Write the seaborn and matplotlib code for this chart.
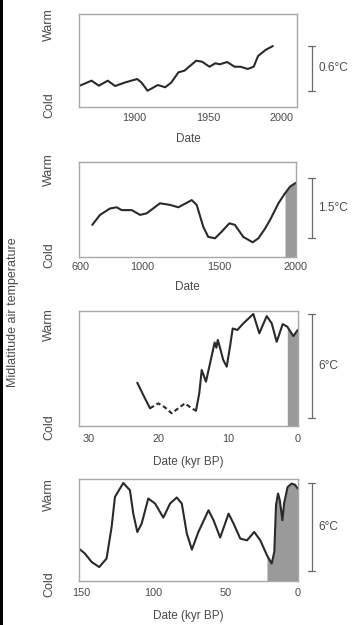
import numpy as np
import pandas as pd
import matplotlib
matplotlib.use("Agg")
import matplotlib.pyplot as plt
import matplotlib.transforms as mtransforms
from matplotlib.patches import Rectangle
import seaborn as sns

# ---------------- data ----------------
# Panel 1: instrumental era
p1_year = [1862.5, 1871, 1876, 1882, 1887, 1894, 1902, 1905, 1909, 1916, 1921,
           1925, 1930, 1934, 1942, 1946, 1951, 1955, 1958, 1963, 1968, 1972,
           1977, 1981, 1984, 1989, 1994]
p1_temp = [0.284, 0.355, 0.288, 0.355, 0.284, 0.333, 0.377, 0.328, 0.221, 0.297,
           0.267, 0.328, 0.467, 0.488, 0.621, 0.608, 0.541, 0.587, 0.573, 0.604,
           0.541, 0.541, 0.511, 0.541, 0.684, 0.764, 0.817]

# Panel 2: last ~1400 years
p2_year = [679, 729, 794, 837, 870, 935, 989, 1032, 1118, 1183, 1237, 1324, 1356,
           1399, 1431, 1475, 1518, 1568, 1604, 1658, 1719, 1756, 1799, 1832,
           1886, 1929, 1961, 2000]
p2_temp = [0.795, 1.045, 1.205, 1.235, 1.165, 1.165, 1.045, 1.085, 1.335, 1.295,
           1.235, 1.415, 1.295, 0.745, 0.495, 0.46, 0.625, 0.835, 0.795, 0.495,
           0.36, 0.46, 0.70, 0.92, 1.335, 1.585, 1.75, 1.85]
p2_shade_from = 1929

# Panel 3: last glacial termination (kyr BP)
p3_kyr_a = [22.98, 22.12, 21.16]
p3_temp_a = [2.49, 1.78, 1.02]
p3_kyr_dash = [21.16, 19.97, 19.01, 18.05, 17.11, 16.15, 15.19, 14.57]
p3_temp_dash = [1.02, 1.30, 1.07, 0.73, 1.02, 1.30, 1.02, 0.88]
p3_kyr_b = [14.57, 14.10, 13.75, 13.14, 12.56, 11.9, 11.65, 11.45, 11.2, 10.66,
            10.17, 9.70, 9.31, 8.65, 7.79, 6.36, 5.50, 4.44, 3.72, 3.01, 2.15,
            1.49, 0.63, 0.0]
p3_temp_b = [0.88, 1.88, 3.22, 2.55, 3.60, 4.80, 4.50, 4.95, 4.60, 3.79, 3.41,
             4.56, 5.61, 5.52, 5.90, 6.44, 5.33, 6.32, 5.90, 4.84, 5.86, 5.71,
             5.17, 5.52]
p3_shade_from = 1.49

# Panel 4: last glacial cycle (kyr BP)
p4_kyr = [151.6, 147.4, 142.8, 137.5, 132.4, 128.9, 126.6, 120.8, 116.2, 113.9,
          111.1, 108.1, 103.5, 98.8, 93.1, 88.4, 83.8, 80.3, 76.8, 73.3, 68.8,
          61.8, 58.3, 53.7, 47.9, 44.4, 39.8, 35.1, 30.1, 25.9, 21.3, 18.0,
          16.2, 15.0, 13.6, 12.4, 10.6, 9.4, 7.0, 4.2, 1.8, 0.0]
p4_temp = [2.21, 1.87, 1.30, 0.95, 1.53, 3.68, 5.73, 6.68, 6.18, 4.59, 3.34, 3.91,
           5.62, 5.28, 4.32, 5.28, 5.69, 5.28, 3.23, 2.14, 3.34, 4.82, 4.14, 2.96,
           4.59, 3.91, 2.89, 2.77, 3.34, 2.77, 1.75, 1.19, 2.0, 5.2, 5.96, 5.5,
           4.14, 5.3, 6.4, 6.64, 6.55, 6.30]
p4_shade_from = 21.3

# scale bars: (low, high, label)
scale_bars = [(0.221, 0.821, "0.6°C"), (0.46, 1.96, "1.5°C"),
              (0.44, 6.44, "6°C"), (0.68, 6.68, "6°C")]

# ---------------- style ----------------
sns.set_theme(style="white")
plt.rcParams["font.family"] = ["Liberation Sans", "DejaVu Sans"]
TXT = "#4a4a4a"
SPINE = "#a8a8a8"
LINE = "#2a2a2a"
FILL = "#9a9a9a"
FS_TICK = 7.8
FS_LAB = 8.5
FS_SIDE = 9.0
LW = 1.5
LINE_KW = dict(color=LINE, lw=LW, sort=False, estimator=None,
               solid_joinstyle="round", solid_capstyle="round")

W, H = 353, 625
fig = plt.figure(figsize=(W / 100, H / 100), dpi=100)
fig.patch.set_facecolor("white")


def make_ax(left, right, top, bottom):
    return fig.add_axes([left / W, 1 - bottom / H, (right - left) / W, (bottom - top) / H])


axes = [make_ax(79, 297, 14, 107.3),
        make_ax(79, 296, 161.7, 256.7),
        make_ax(79, 297.7, 310.7, 426),
        make_ax(79, 297.7, 479, 581)]
ylims = [(0, 1.244), (0, 2.375), (0, 6.63), (0, 6.95)]
warm_pos = [0.89, 0.92, 0.875, 0.85]
cold_pos = [0.02, 0.02, -0.01, -0.03]
labelpads = [7.5, 6.5, 8.5, 9.0]

for ax in axes:
    ax.set_facecolor("white")
    for s in ax.spines.values():
        s.set_color(SPINE)
        s.set_linewidth(1.0)
        s.set_visible(True)
    ax.set_yticks([])

# Panel 1
ax = axes[0]
sns.lineplot(x=p1_year, y=p1_temp, ax=ax, **LINE_KW)
ax.set_xlim(1862.5, 2010.4)
ax.set_xticks([1900, 1950, 2000])
ax.set_xlabel("Date")

# Panel 2
ax = axes[1]
d2 = pd.DataFrame({"year": p2_year, "temp": p2_temp})
sh2 = d2[d2.year >= p2_shade_from]
ax.fill_between(sh2.year, 0, sh2.temp, color=FILL, lw=0)
sns.lineplot(data=d2, x="year", y="temp", ax=ax, **LINE_KW)
ax.set_xlim(593, 2000)
ax.set_xticks([600, 1000, 1500, 2000])
ax.set_xlabel("Date")

# Panel 3
ax = axes[2]
d3 = pd.DataFrame({"kyr": p3_kyr_b, "temp": p3_temp_b})
sh3 = d3[d3.kyr <= p3_shade_from]
ax.fill_between(sh3.kyr, 0, sh3.temp, color=FILL, lw=0)
sns.lineplot(x=p3_kyr_a, y=p3_temp_a, ax=ax, **LINE_KW)
sns.lineplot(x=p3_kyr_dash, y=p3_temp_dash, ax=ax, color=LINE, lw=LW, sort=False,
             estimator=None, linestyle=(0, (2.2, 1.4)))
sns.lineplot(data=d3, x="kyr", y="temp", ax=ax, **LINE_KW)
ax.set_xlim(31.33, 0)
ax.set_xticks([30, 20, 10, 0])
ax.set_xticks([25, 15, 5], minor=True)
ax.set_xlabel("Date (kyr BP)")

# Panel 4
ax = axes[3]
d4 = pd.DataFrame({"kyr": p4_kyr, "temp": p4_temp})
sh4 = d4[d4.kyr <= p4_shade_from]
ax.fill_between(sh4.kyr, 0, sh4.temp, color=FILL, lw=0)
sns.lineplot(data=d4, x="kyr", y="temp", ax=ax, **LINE_KW)
ax.set_xlim(151.5, 0)
ax.set_xticks([150, 100, 50, 0])
ax.set_xticks([125, 75, 25], minor=True)
ax.set_xlabel("Date (kyr BP)")

for i, ax in enumerate(axes):
    ax.set_ylim(*ylims[i])
    ax.set_ylabel("")
    ax.xaxis.label.set_color(TXT)
    ax.xaxis.label.set_size(FS_LAB)
    ax.xaxis.labelpad = labelpads[i]
    if i < 3:
        ax.tick_params(axis="x", which="major", direction="in", length=7, width=0.9,
                       color=SPINE, labelcolor=TXT, labelsize=FS_TICK,
                       pad=4 if i < 2 else 6)
        ax.tick_params(axis="x", which="minor", direction="in", length=5, width=0.9,
                       color=SPINE)
    else:
        ax.tick_params(axis="x", which="major", direction="in", length=9, width=1.8,
                       color="#111111", labelcolor=TXT, labelsize=FS_TICK, pad=5)
        ax.tick_params(axis="x", which="minor", direction="in", length=6.5, width=1.8,
                       color="#111111")
    # hide tick marks that sit on the frame edges
    lo, hi = sorted(ax.get_xlim())
    for t, loc in zip(ax.xaxis.get_major_ticks(), ax.get_xticks()):
        if loc - lo < 0.02 * (hi - lo) or hi - loc < 0.02 * (hi - lo):
            t.tick1line.set_visible(False)
        t.tick2line.set_visible(False)
    # Warm / Cold labels
    ax.text(-0.137, warm_pos[i], "Warm", transform=ax.transAxes, rotation=90,
            ha="center", va="center", fontsize=FS_SIDE, color=TXT)
    ax.text(-0.137, cold_pos[i], "Cold", transform=ax.transAxes, rotation=90,
            ha="center", va="center", fontsize=FS_SIDE, color=TXT)
    # scale bar
    lo_s, hi_s, lab = scale_bars[i]
    tr = mtransforms.blended_transform_factory(ax.transAxes, ax.transData)
    wpx = ax.get_position().width * W
    xb = (311.7 - 79) / wpx
    cap = 3.5 / wpx
    for xs, ys in [([xb, xb], [lo_s, hi_s]), ([xb - cap, xb + cap], [lo_s, lo_s]),
                   ([xb - cap, xb + cap], [hi_s, hi_s])]:
        ax.plot(xs, ys, transform=tr, color="#6a6a6a", lw=0.9, clip_on=False)
    ax.text((318.5 - 79) / wpx, (lo_s + hi_s) / 2, lab, transform=tr, ha="left",
            va="center", fontsize=FS_LAB, color=TXT)

fig.text(13 / W, 1 - 312 / H, "Midlatitude air temperature", rotation=90,
         ha="center", va="center", fontsize=FS_SIDE, color=TXT)
fig.add_artist(Rectangle((0, 0), 2.6 / W, 1, transform=fig.transFigure,
                         color="black", lw=0))

fig.savefig("out.png", dpi=100, facecolor="white")
